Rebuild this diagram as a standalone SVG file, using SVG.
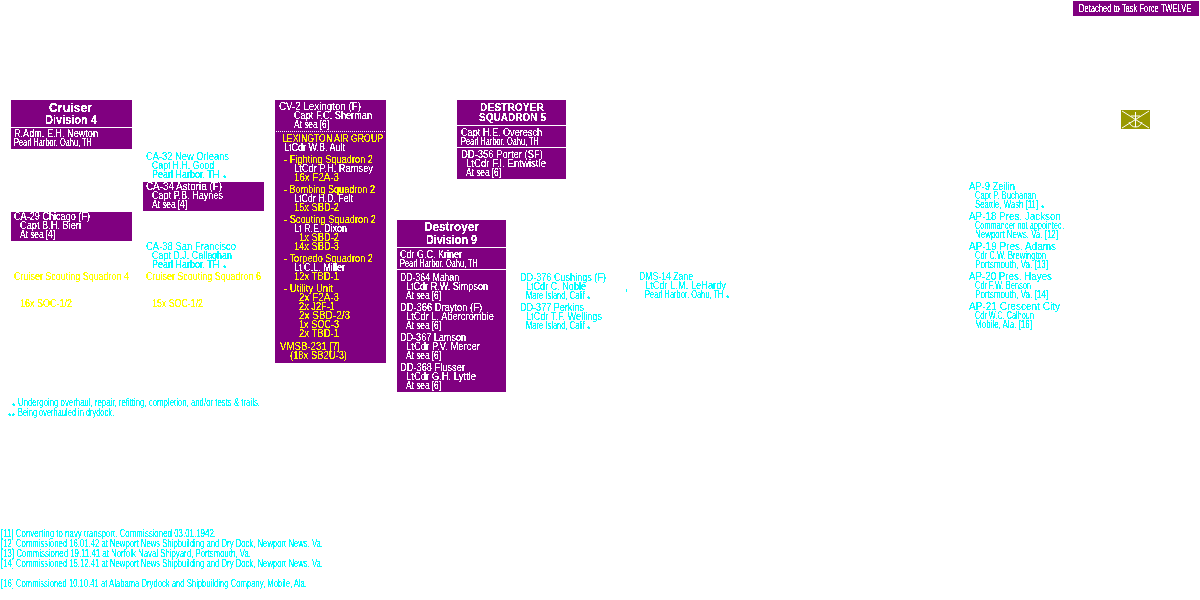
<svg xmlns="http://www.w3.org/2000/svg" width="1200" height="600" viewBox="0 0 1200 600">
<style>
text{font-family:"Liberation Sans",Arial,sans-serif;font-size:10px;filter:url(#px)}
.w{fill:#fff}.c{fill:#0ff}.y{fill:#ff0}
.h{font-weight:bold;font-size:12px;fill:#fff}
.d{font-weight:bold;font-size:10px;fill:#fff}
.a{font-size:9px;fill:#0ff}
.b{fill:#800080}
</style>
<defs><filter id="px" color-interpolation-filters="sRGB"><feComponentTransfer><feFuncA type="discrete" tableValues="0 0 1 1 1"/></feComponentTransfer></filter></defs>
<rect width="1200" height="600" fill="#fff"/>

<g id="detached"><rect class="b" x="1073" y="1" width="126" height="15"/>
<text class="w" transform="translate(1079 12) scale(.757 1)">Detached to Task Force TWELVE</text></g>

<g id="insignia"><rect x="1121" y="110" width="29" height="19" fill="#999900"/>
<path d="M1122 111L1149 128M1149 111L1122 128M1135.500 112V127M1131 116H1140M1129 122Q1131 127 1135.500 127Q1140 127 1142 122" fill="none" stroke="#fff" stroke-width="1"/></g>

<g id="crudiv4"><rect class="b" x="11" y="100" width="121" height="27"/><rect class="b" x="11" y="128" width="121" height="21"/>
<text class="h" x="49" y="112" textLength="43" lengthAdjust="spacingAndGlyphs">Cruiser</text>
<text class="h" x="45" y="124" textLength="52" lengthAdjust="spacingAndGlyphs">Division 4</text>
<text class="w" x="14" y="137" textLength="84" lengthAdjust="spacingAndGlyphs">R.Adm. E.H. Newton</text>
<text class="w" x="14" y="146" textLength="78" lengthAdjust="spacingAndGlyphs">Pearl Harbor, Oahu, TH</text></g>

<g id="ca32">
<text class="c" x="146" y="160" textLength="83" lengthAdjust="spacingAndGlyphs">CA-32 New Orleans</text>
<text class="c" x="152" y="169" textLength="62" lengthAdjust="spacingAndGlyphs">Capt H.H. Good</text>
<text class="c" transform="translate(152 178) scale(.9 1)">Pearl Harbor, TH</text>
<text class="a" x="223" y="181">*</text></g>

<g id="ca34"><rect class="b" x="143" y="182" width="121" height="29"/>
<text class="w" x="146" y="190" textLength="76" lengthAdjust="spacingAndGlyphs">CA-34 Astoria (F)</text>
<text class="w" x="152" y="199" textLength="71" lengthAdjust="spacingAndGlyphs">Capt P.B. Haynes</text>
<text class="w" x="152" y="208" textLength="35" lengthAdjust="spacingAndGlyphs">At sea [4]</text></g>

<g id="ca29"><rect class="b" x="11" y="212" width="121" height="29"/>
<text class="w" x="14" y="220" textLength="76" lengthAdjust="spacingAndGlyphs">CA-29 Chicago (F)</text>
<text class="w" x="20" y="229" textLength="61" lengthAdjust="spacingAndGlyphs">Capt B.H. Bieri</text>
<text class="w" x="20" y="238" textLength="35" lengthAdjust="spacingAndGlyphs">At sea [4]</text></g>

<g id="ca38">
<text class="c" x="146" y="250" textLength="90" lengthAdjust="spacingAndGlyphs">CA-38 San Francisco</text>
<text class="c" x="152" y="259" textLength="80" lengthAdjust="spacingAndGlyphs">Capt D.J. Callaghan</text>
<text class="c" transform="translate(152 268) scale(.9 1)">Pearl Harbor, TH</text>
<text class="a" x="223" y="271">*</text></g>

<g id="scoutron4">
<text class="y" x="14" y="280" textLength="115" lengthAdjust="spacingAndGlyphs">Cruiser Scouting Squadron 4</text>
<text class="y" x="20" y="307" textLength="52" lengthAdjust="spacingAndGlyphs">16x SOC-1/2</text></g>
<g id="scoutron6">
<text class="y" x="146" y="280" textLength="115" lengthAdjust="spacingAndGlyphs">Cruiser Scouting Squadron 6</text>
<text class="y" x="152" y="307" textLength="51" lengthAdjust="spacingAndGlyphs">15x SOC-1/2</text></g>

<g id="cv2"><rect class="b" x="275" y="100" width="111" height="263"/>
<line x1="276" y1="131.500" x2="386" y2="131.500" stroke="#fff" stroke-dasharray="1 1"/>
<text class="w" x="279" y="110" textLength="82" lengthAdjust="spacingAndGlyphs">CV-2 Lexington (F)</text>
<text class="w" x="294" y="119" textLength="78" lengthAdjust="spacingAndGlyphs">Capt F.C. Sherman</text>
<text class="w" x="294" y="128" textLength="35" lengthAdjust="spacingAndGlyphs">At sea [6]</text>
<text class="y" x="282" y="142" textLength="101" lengthAdjust="spacingAndGlyphs">LEXINGTON AIR GROUP</text>
<text class="w" x="284" y="151" textLength="61" lengthAdjust="spacingAndGlyphs">LtCdr W.B. Ault</text>
<text class="y" x="284" y="163" textLength="89" lengthAdjust="spacingAndGlyphs">- Fighting Squadron 2</text>
<text class="w" x="294" y="172" textLength="79" lengthAdjust="spacingAndGlyphs">LtCdr P.H. Ramsey</text>
<text class="y" x="294" y="181" textLength="45" lengthAdjust="spacingAndGlyphs">16x F2A-3</text>
<text class="y" x="284" y="193" textLength="91" lengthAdjust="spacingAndGlyphs">- Bombing Squadron 2</text>
<text class="w" x="294" y="202" textLength="59" lengthAdjust="spacingAndGlyphs">LtCdr H.D. Felt</text>
<text class="y" x="294" y="211" textLength="45" lengthAdjust="spacingAndGlyphs">15x SBD-2</text>
<text class="y" x="284" y="223" textLength="92" lengthAdjust="spacingAndGlyphs">- Scouting Squadron 2</text>
<text class="w" x="294" y="232" textLength="53" lengthAdjust="spacingAndGlyphs">Lt R.E. Dixon</text>
<text class="y" x="299" y="241" textLength="40" lengthAdjust="spacingAndGlyphs">1x SBD-2</text>
<text class="y" x="294" y="250" textLength="45" lengthAdjust="spacingAndGlyphs">14x SBD-3</text>
<text class="y" x="284" y="262" textLength="89" lengthAdjust="spacingAndGlyphs">- Torpedo Squadron 2</text>
<text class="w" x="294" y="271" textLength="51" lengthAdjust="spacingAndGlyphs">Lt C.L. Miller</text>
<text class="y" x="294" y="280" textLength="45" lengthAdjust="spacingAndGlyphs">12x TBD-1</text>
<text class="y" x="284" y="292" textLength="49" lengthAdjust="spacingAndGlyphs">- Utility Unit</text>
<text class="y" x="299" y="301" textLength="40" lengthAdjust="spacingAndGlyphs">2x F2A-3</text>
<text class="y" x="299" y="310" textLength="36" lengthAdjust="spacingAndGlyphs">2x J2F-1</text>
<text class="y" x="299" y="319" textLength="51" lengthAdjust="spacingAndGlyphs">2x SBD-2/3</text>
<text class="y" x="299" y="328" textLength="40" lengthAdjust="spacingAndGlyphs">1x SOC-3</text>
<text class="y" x="299" y="337" textLength="40" lengthAdjust="spacingAndGlyphs">2x TBD-1</text>
<text class="y" x="280" y="350" textLength="60" lengthAdjust="spacingAndGlyphs">VMSB-231 [7]</text>
<text class="y" x="290" y="359" textLength="57" lengthAdjust="spacingAndGlyphs">(18x SB2U-3)</text></g>

<g id="desron5"><rect class="b" x="457" y="100" width="109" height="25"/><rect class="b" x="457" y="126" width="109" height="21"/><rect class="b" x="457" y="148" width="109" height="31"/>
<text class="d" x="480" y="111" textLength="64" lengthAdjust="spacingAndGlyphs">DESTROYER</text>
<text class="d" x="479" y="121" textLength="67" lengthAdjust="spacingAndGlyphs">SQUADRON 5</text>
<text class="w" x="461" y="136" textLength="81" lengthAdjust="spacingAndGlyphs">Capt H.E. Overesch</text>
<text class="w" x="461" y="145" textLength="78" lengthAdjust="spacingAndGlyphs">Pearl Harbor, Oahu, TH</text>
<text class="w" x="461" y="158" textLength="82" lengthAdjust="spacingAndGlyphs">DD-356 Porter (SF)</text>
<text class="w" x="466" y="167" textLength="80" lengthAdjust="spacingAndGlyphs">LtCdr F.I. Entwistle</text>
<text class="w" x="466" y="176" textLength="35" lengthAdjust="spacingAndGlyphs">At sea [6]</text></g>

<g id="desdiv9"><rect class="b" x="397" y="220" width="109" height="27"/><rect class="b" x="397" y="248" width="109" height="21"/><rect class="b" x="397" y="270" width="109" height="122"/>
<text class="h" x="424" y="231" textLength="55" lengthAdjust="spacingAndGlyphs">Destroyer</text>
<text class="h" x="426" y="244" textLength="51" lengthAdjust="spacingAndGlyphs">Division 9</text>
<text class="w" x="400" y="258" textLength="62" lengthAdjust="spacingAndGlyphs">Cdr G.C. Kriner</text>
<text class="w" x="400" y="267" textLength="78" lengthAdjust="spacingAndGlyphs">Pearl Harbor, Oahu, TH</text>
<text class="w" x="400" y="281" textLength="59" lengthAdjust="spacingAndGlyphs">DD-364 Mahan</text>
<text class="w" x="406" y="290" textLength="82" lengthAdjust="spacingAndGlyphs">LtCdr R.W. Simpson</text>
<text class="w" x="406" y="299" textLength="35" lengthAdjust="spacingAndGlyphs">At sea [6]</text>
<text class="w" x="400" y="311" textLength="82" lengthAdjust="spacingAndGlyphs">DD-366 Drayton (F)</text>
<text class="w" x="406" y="320" textLength="88" lengthAdjust="spacingAndGlyphs">LtCdr L. Abercrombie</text>
<text class="w" x="406" y="329" textLength="35" lengthAdjust="spacingAndGlyphs">At sea [6]</text>
<text class="w" x="400" y="341" textLength="66" lengthAdjust="spacingAndGlyphs">DD-367 Lamson</text>
<text class="w" x="406" y="350" textLength="74" lengthAdjust="spacingAndGlyphs">LtCdr P.V. Mercer</text>
<text class="w" x="406" y="359" textLength="35" lengthAdjust="spacingAndGlyphs">At sea [6]</text>
<text class="w" x="400" y="371" textLength="65" lengthAdjust="spacingAndGlyphs">DD-368 Flusser</text>
<text class="w" x="406" y="380" textLength="70" lengthAdjust="spacingAndGlyphs">LtCdr G.H. Lyttle</text>
<text class="w" x="406" y="389" textLength="35" lengthAdjust="spacingAndGlyphs">At sea [6]</text></g>

<g id="dd376">
<text class="c" x="520" y="281" textLength="86" lengthAdjust="spacingAndGlyphs">DD-376 Cushings (F)</text>
<text class="c" x="526" y="290" textLength="60" lengthAdjust="spacingAndGlyphs">LtCdr C. Noble</text>
<text class="c" transform="translate(526 299) scale(.758 1)">Mare Island, Calif</text>
<text class="a" x="587" y="302">*</text></g>
<g id="dd377">
<text class="c" x="520" y="311" textLength="64" lengthAdjust="spacingAndGlyphs">DD-377 Perkins</text>
<text class="c" x="526" y="320" textLength="76" lengthAdjust="spacingAndGlyphs">LtCdr T.F. Wellings</text>
<text class="c" transform="translate(526 329) scale(.758 1)">Mare Island, Calif</text>
<text class="a" x="587" y="332">*</text></g>
<rect x="626" y="289" width="1" height="3" fill="#0ff"/>
<g id="dms14">
<text class="c" x="639" y="280" textLength="54" lengthAdjust="spacingAndGlyphs">DMS-14 Zane</text>
<text class="c" x="645" y="289" textLength="81" lengthAdjust="spacingAndGlyphs">LtCdr L.M. LeHardy</text>
<text class="c" transform="translate(645 298) scale(.748 1)">Pearl Harbor, Oahu, TH</text>
<text class="a" x="726" y="301">*</text></g>

<g id="ap9">
<text class="c" x="969" y="190" textLength="46" lengthAdjust="spacingAndGlyphs">AP-9 Zeilin</text>
<text class="c" x="975" y="199" textLength="61" lengthAdjust="spacingAndGlyphs">Capt P. Buchanan</text>
<text class="c" transform="translate(975 208) scale(.783 1)">Seattle, Wash [11]</text>
<text class="a" x="1041" y="211">*</text></g>
<g id="ap18">
<text class="c" x="969" y="220" textLength="92" lengthAdjust="spacingAndGlyphs">AP-18 Pres. Jackson</text>
<text class="c" x="975" y="229" textLength="89" lengthAdjust="spacingAndGlyphs">Commander not appointed.</text>
<text class="c" x="975" y="238" textLength="83" lengthAdjust="spacingAndGlyphs">Newport News, Va. [12]</text></g>
<g id="ap19">
<text class="c" x="969" y="250" textLength="87" lengthAdjust="spacingAndGlyphs">AP-19 Pres. Adams</text>
<text class="c" x="975" y="259" textLength="71" lengthAdjust="spacingAndGlyphs">Cdr C.W. Brewington</text>
<text class="c" x="975" y="268" textLength="73" lengthAdjust="spacingAndGlyphs">Portsmouth, Va. [13]</text></g>
<g id="ap20">
<text class="c" x="969" y="280" textLength="83" lengthAdjust="spacingAndGlyphs">AP-20 Pres. Hayes</text>
<text class="c" x="975" y="289" textLength="56" lengthAdjust="spacingAndGlyphs">Cdr F.W. Benson</text>
<text class="c" x="975" y="298" textLength="73" lengthAdjust="spacingAndGlyphs">Portsmouth, Va. [14]</text></g>
<g id="ap21">
<text class="c" x="969" y="310" textLength="91" lengthAdjust="spacingAndGlyphs">AP-21 Crescent City</text>
<text class="c" x="975" y="319" textLength="59" lengthAdjust="spacingAndGlyphs">Cdr W.C. Calhoun</text>
<text class="c" x="975" y="328" textLength="57" lengthAdjust="spacingAndGlyphs">Mobile, Ala. [16]</text></g>

<g id="legend">
<text class="a" x="12" y="409">*</text>
<text class="c" x="18" y="406" textLength="242" lengthAdjust="spacingAndGlyphs">Undergoing overhaul, repair, refitting, completion, and/or tests &amp; trails.</text>
<text class="a" x="8" y="419">**</text>
<text class="c" x="18" y="416" textLength="96" lengthAdjust="spacingAndGlyphs">Being overhauled in drydock.</text></g>

<g id="footnotes">
<text class="c" x="1" y="537" textLength="215" lengthAdjust="spacingAndGlyphs">[11] Converting to navy transport. Commissioned 03.01.1942.</text>
<text class="c" x="1" y="547" textLength="322" lengthAdjust="spacingAndGlyphs">[12] Commissioned 16.01.42 at Newport News Shipbuilding and Dry Dock, Newport News, Va.</text>
<text class="c" x="1" y="557" textLength="250" lengthAdjust="spacingAndGlyphs">[13] Commissioned 19.11.41 at Norfolk Naval Shipyard, Portsmouth, Va.</text>
<text class="c" x="1" y="567" textLength="322" lengthAdjust="spacingAndGlyphs">[14] Commissioned 15.12.41 at Newport News Shipbuilding and Dry Dock, Newport News, Va.</text>
<text class="c" x="1" y="587" textLength="306" lengthAdjust="spacingAndGlyphs">[16] Commissioned 10.10.41 at Alabama Drydock and Shipbuilding Company, Mobile, Ala.</text></g>
</svg>
